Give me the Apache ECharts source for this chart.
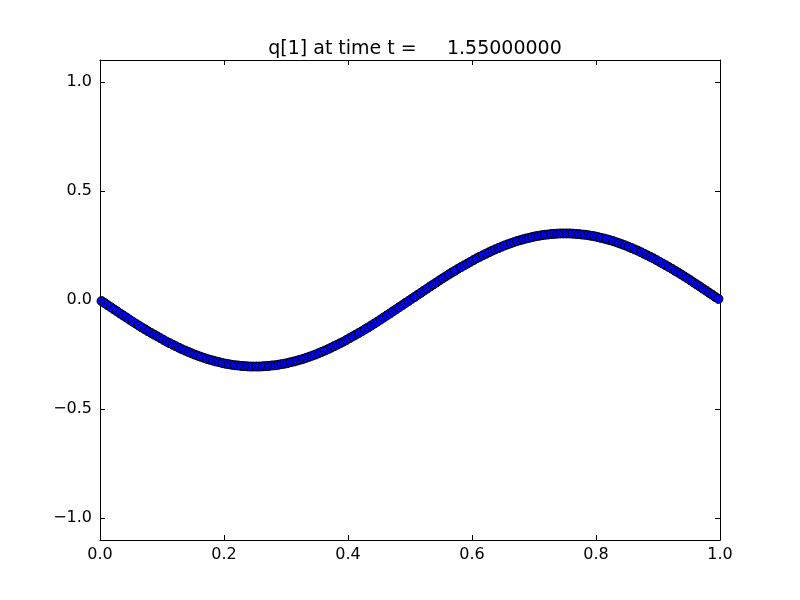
<!DOCTYPE html>
<html>
<head>
<meta charset="utf-8">
<script src="https://cdn.jsdelivr.net/npm/echarts@6/dist/echarts.min.js"></script>
<style>html,body{margin:0;padding:0;background:#fff}#c{width:800px;height:600px}</style>
</head>
<body>
<div id="c"></div>
<script>
var titleText = 'q[1] at time t =     1.55000000';
var xTicks = [0, 0.2, 0.4, 0.6, 0.8, 1.0];
var yTicks = [-1.0, -0.5, 0.0, 0.5, 1.0];
var xValues = [
0.0025,0.0075,0.0125,0.0175,0.0225,0.0275,0.0325,0.0375,0.0425,0.0475,
0.0525,0.0575,0.0625,0.0675,0.0725,0.0775,0.0825,0.0875,0.0925,0.0975,
0.1025,0.1075,0.1125,0.1175,0.1225,0.1275,0.1325,0.1375,0.1425,0.1475,
0.1525,0.1575,0.1625,0.1675,0.1725,0.1775,0.1825,0.1875,0.1925,0.1975,
0.2025,0.2075,0.2125,0.2175,0.2225,0.2275,0.2325,0.2375,0.2425,0.2475,
0.2525,0.2575,0.2625,0.2675,0.2725,0.2775,0.2825,0.2875,0.2925,0.2975,
0.3025,0.3075,0.3125,0.3175,0.3225,0.3275,0.3325,0.3375,0.3425,0.3475,
0.3525,0.3575,0.3625,0.3675,0.3725,0.3775,0.3825,0.3875,0.3925,0.3975,
0.4025,0.4075,0.4125,0.4175,0.4225,0.4275,0.4325,0.4375,0.4425,0.4475,
0.4525,0.4575,0.4625,0.4675,0.4725,0.4775,0.4825,0.4875,0.4925,0.4975,
0.5025,0.5075,0.5125,0.5175,0.5225,0.5275,0.5325,0.5375,0.5425,0.5475,
0.5525,0.5575,0.5625,0.5675,0.5725,0.5775,0.5825,0.5875,0.5925,0.5975,
0.6025,0.6075,0.6125,0.6175,0.6225,0.6275,0.6325,0.6375,0.6425,0.6475,
0.6525,0.6575,0.6625,0.6675,0.6725,0.6775,0.6825,0.6875,0.6925,0.6975,
0.7025,0.7075,0.7125,0.7175,0.7225,0.7275,0.7325,0.7375,0.7425,0.7475,
0.7525,0.7575,0.7625,0.7675,0.7725,0.7775,0.7825,0.7875,0.7925,0.7975,
0.8025,0.8075,0.8125,0.8175,0.8225,0.8275,0.8325,0.8375,0.8425,0.8475,
0.8525,0.8575,0.8625,0.8675,0.8725,0.8775,0.8825,0.8875,0.8925,0.8975,
0.9025,0.9075,0.9125,0.9175,0.9225,0.9275,0.9325,0.9375,0.9425,0.9475,
0.9525,0.9575,0.9625,0.9675,0.9725,0.9775,0.9825,0.9875,0.9925,0.9975
];
var qValues = [
-0.005,-0.014,-0.024,-0.033,-0.043,-0.052,-0.062,-0.071,-0.080,-0.090,
-0.099,-0.108,-0.117,-0.126,-0.134,-0.143,-0.151,-0.159,-0.167,-0.175,
-0.183,-0.191,-0.198,-0.205,-0.212,-0.219,-0.226,-0.232,-0.238,-0.244,
-0.250,-0.255,-0.260,-0.265,-0.270,-0.274,-0.278,-0.282,-0.285,-0.289,
-0.292,-0.294,-0.297,-0.299,-0.300,-0.302,-0.303,-0.304,-0.305,-0.305,
-0.305,-0.305,-0.304,-0.303,-0.302,-0.300,-0.299,-0.297,-0.294,-0.292,
-0.289,-0.285,-0.282,-0.278,-0.274,-0.270,-0.265,-0.260,-0.255,-0.250,
-0.244,-0.238,-0.232,-0.226,-0.219,-0.212,-0.205,-0.198,-0.191,-0.183,
-0.175,-0.167,-0.159,-0.151,-0.143,-0.134,-0.126,-0.117,-0.108,-0.099,
-0.090,-0.080,-0.071,-0.062,-0.052,-0.043,-0.033,-0.024,-0.014,-0.005,
0.005,0.014,0.024,0.033,0.043,0.052,0.062,0.071,0.080,0.090,
0.099,0.108,0.117,0.126,0.134,0.143,0.151,0.159,0.167,0.175,
0.183,0.191,0.198,0.205,0.212,0.219,0.226,0.232,0.238,0.244,
0.250,0.255,0.260,0.265,0.270,0.274,0.278,0.282,0.285,0.289,
0.292,0.294,0.297,0.299,0.300,0.302,0.303,0.304,0.305,0.305,
0.305,0.305,0.304,0.303,0.302,0.300,0.299,0.297,0.294,0.292,
0.289,0.285,0.282,0.278,0.274,0.270,0.265,0.260,0.255,0.250,
0.244,0.238,0.232,0.226,0.219,0.212,0.205,0.198,0.191,0.183,
0.175,0.167,0.159,0.151,0.143,0.134,0.126,0.117,0.108,0.099,
0.090,0.080,0.071,0.062,0.052,0.043,0.033,0.024,0.014,0.005
];

var FONT = 'DejaVu Sans';
var data = xValues.map(function (x, i) { return [x, qValues[i]]; });
function fmt(v) { var s = Number(v).toFixed(1); return s.charAt(0) === '-' ? '\u2212' + s.slice(1) : s; }

function xAxisDef(pos, showLabel) {
  return {
    type: 'value', position: pos, min: 0, max: 1, interval: 0.2,
    axisLine: { show: true, onZero: false, lineStyle: { color: '#000', width: 1 } },
    axisTick: { show: true, inside: true, length: 5, lineStyle: { color: '#000', width: 1 } },
    axisLabel: { show: showLabel, margin: 7, color: '#000', fontFamily: FONT, fontSize: 16, formatter: fmt },
    splitLine: { show: false }
  };
}
function yAxisDef(pos, showLabel) {
  return {
    type: 'value', position: pos, min: -1.1, max: 1.1,
    axisLine: { show: true, onZero: false, lineStyle: { color: '#000', width: 1 } },
    axisTick: { show: true, inside: true, length: 5, customValues: yTicks, lineStyle: { color: '#000', width: 1 } },
    axisLabel: { show: showLabel, margin: 8, color: '#000', fontFamily: FONT, fontSize: 16, customValues: yTicks, formatter: fmt },
    splitLine: { show: false }
  };
}

var chart = echarts.init(document.getElementById('c'), null, { renderer: 'canvas' });
chart.setOption({
  backgroundColor: '#fff',
  animation: false,
  title: {
    text: titleText, left: 410, top: 35, textAlign: 'center',
    textStyle: { fontFamily: FONT, fontSize: 19, fontWeight: 'normal', color: '#000' }
  },
  grid: { left: 100, right: 80, top: 60, bottom: 60, containLabel: false },
  xAxis: [xAxisDef('bottom', true), xAxisDef('top', false)],
  yAxis: [yAxisDef('left', true), yAxisDef('right', false)],
  series: [{
    type: 'scatter', xAxisIndex: 0, yAxisIndex: 0, data: data,
    symbol: 'circle', symbolSize: 9,
    itemStyle: { color: '#0000ff', borderColor: '#000', borderWidth: 1, opacity: 1 }
  }]
});
</script>
</body>
</html>
